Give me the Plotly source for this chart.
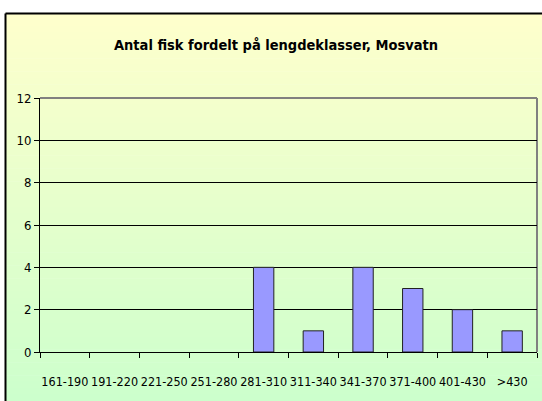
import plotly.graph_objects as go

categories = ["161-190", "191-220", "221-250", "251-280", "281-310",
              "311-340", "341-370", "371-400", "401-430", ">430"]
counts = [0, 0, 0, 0, 4, 1, 4, 3, 2, 1]
title_text = "Antal fisk fordelt på lengdeklasser, Mosvatn"
y_ticks = [0, 2, 4, 6, 8, 10, 12]

W, H = 542, 401
L, R, T, B = 40, 5, 98, 49
pw, ph = W - L - R, H - T - B

def px_x(px):
    return (px - L) / pw

def px_y(py):
    return (H - B - py) / ph

FONT = "DejaVu Sans Condensed, Liberation Sans Narrow, Arial Narrow, sans-serif"

fig = go.Figure()
fig.add_trace(go.Bar(
    x=categories, y=counts,
    marker=dict(color="#9999FF",
                line=dict(color="#222222", width=[1 if c > 0 else 0 for c in counts])),
    width=0.41,
))

shapes = []
top_px, bot_px = 13, H
n = 60
c0 = (255, 255, 204)
c1 = (204, 255, 204)
for i in range(n):
    y0p = top_px + (bot_px - top_px) * i / n
    y1p = top_px + (bot_px - top_px) * (i + 1) / n + 0.6
    t = (i + 0.5) / n
    col = tuple(round(c0[k] + (c1[k] - c0[k]) * t) for k in range(3))
    shapes.append(dict(type="rect", xref="paper", yref="paper", layer="below",
                       x0=px_x(5), x1=px_x(W + 2), y0=px_y(y1p), y1=px_y(y0p),
                       line=dict(width=0), fillcolor="rgb(%d,%d,%d)" % col))
shapes.append(dict(type="line", xref="paper", yref="paper", layer="above",
                   x0=px_x(5.5), x1=px_x(W + 2), y0=px_y(13.5), y1=px_y(13.5),
                   line=dict(color="black", width=2)))
shapes.append(dict(type="line", xref="paper", yref="paper", layer="above",
                   x0=px_x(5.5), x1=px_x(5.5), y0=px_y(13.5), y1=px_y(H + 2),
                   line=dict(color="black", width=2)))
shapes.append(dict(type="line", xref="paper", yref="paper", layer="below",
                   x0=0, x1=1, y0=1, y1=1, line=dict(color="#808080", width=2)))
shapes.append(dict(type="line", xref="paper", yref="paper", layer="below",
                   x0=1, x1=1, y0=0, y1=1, line=dict(color="#808080", width=2)))

fig.update_layout(
    width=W, height=H,
    margin=dict(l=L, r=R, t=T, b=B, autoexpand=False),
    paper_bgcolor="white",
    plot_bgcolor="rgba(0,0,0,0)",
    showlegend=False,
    shapes=shapes,
    font=dict(family=FONT, size=12, color="black"),
    title=dict(text="<b>" + title_text + "</b>", x=276 / W, xanchor="center",
               y=1 - 45 / H, yanchor="middle",
               font=dict(family=FONT, size=14.5, color="black")),
    xaxis=dict(type="category", range=[-0.5, 9.5], showline=True,
               linecolor="black", linewidth=1, ticks="outside",
               tickson="boundaries", ticklen=5, tickcolor="black",
               ticklabelstandoff=18,
               showgrid=False, fixedrange=True, tickangle=0, automargin=False,
               tickfont=dict(family=FONT, size=12.5)),
    yaxis=dict(range=[0, 12], tickvals=y_ticks, showline=True,
               linecolor="black", linewidth=1, ticks="outside", ticklen=5,
               tickcolor="black", showgrid=True, gridcolor="black",
               gridwidth=1, zeroline=False, fixedrange=True, automargin=False,
               tickfont=dict(family=FONT, size=13)),
)

fig.write_html("out.html", config={"displayModeBar": False},
               post_script="document.body.style.margin='0';")
